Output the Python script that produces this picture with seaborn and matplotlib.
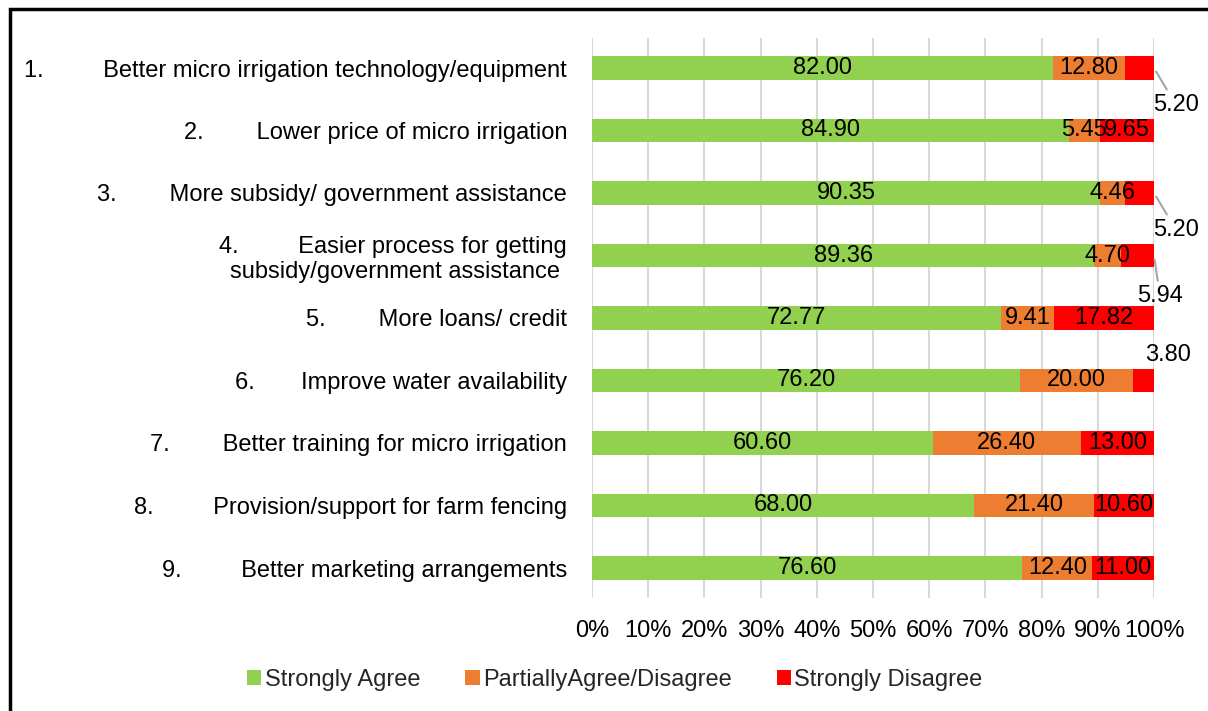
import numpy as np
import pandas as pd
import matplotlib
matplotlib.use("Agg")
import matplotlib.pyplot as plt
import seaborn as sns
from matplotlib.patches import Patch, Rectangle

# Data
labels = [
    "1.         Better micro irrigation technology/equipment",
    "2.        Lower price of micro irrigation",
    "3.        More subsidy/ government assistance",
    "4.         Easier process for getting\nsubsidy/government assistance ",
    "5.        More loans/ credit",
    "6.       Improve water availability",
    "7.        Better training for micro irrigation",
    "8.         Provision/support for farm fencing",
    "9.         Better marketing arrangements",
]
strongly_agree = [82.00, 84.90, 90.35, 89.36, 72.77, 76.20, 60.60, 68.00, 76.60]
partially = [12.80, 5.45, 4.46, 4.70, 9.41, 20.00, 26.40, 21.40, 12.40]
strongly_disagree = [5.20, 9.65, 5.20, 5.94, 17.82, 3.80, 13.00, 10.60, 11.00]
series_names = ["Strongly Agree", "PartiallyAgree/Disagree", "Strongly Disagree"]
colors = ["#92D050", "#ED7D31", "#FF0000"]

# Rows whose "Strongly Disagree" label sits outside the bar, with pixel offsets
outside = {0: (22, -37, True), 2: (22, -37, True), 3: (6, -41, True), 5: (14, 25, False)}

df = pd.DataFrame({
    "item": labels,
    "sa": strongly_agree,
    "pa": partially,
    "sd": strongly_disagree,
})
df["cum1"] = df["sa"]
df["cum2"] = df["sa"] + df["pa"]
df["cum3"] = df["cum2"] + df["sd"]

sns.set_theme(style="white")
plt.rcParams["font.family"] = ["Liberation Sans", "DejaVu Sans"]
FS = 17

fig = plt.figure(figsize=(12.08, 7.11), dpi=100)
ax = fig.add_axes([592 / 1208, 1 - 598 / 711, (1154 - 592) / 1208, (598 - 38) / 711])

# stacked bars drawn back-to-front from cumulative totals
for col, c in zip(["cum3", "cum2", "cum1"], colors[::-1]):
    sns.barplot(data=df, y="item", x=col, orient="h", color=c, width=0.38,
                saturation=1, ax=ax, zorder=3, edgecolor="none")

# segment labels
y_pos = np.arange(len(labels))
for i in range(len(labels)):
    starts = [0, df["cum1"][i], df["cum2"][i]]
    vals = [df["sa"][i], df["pa"][i], df["sd"][i]]
    for k, (s, v) in enumerate(zip(starts, vals)):
        if k == 2 and i in outside:
            dx, dy, line = outside[i]
            ax.annotate(f"{v:.2f}", xy=(df["cum3"][i], y_pos[i]), xytext=(dx, dy),
                        textcoords="offset pixels", ha="center", va="center",
                        fontsize=FS, color="black", zorder=5,
                        arrowprops=dict(arrowstyle="-", color="#A6A6A6", lw=1.5,
                                        shrinkA=1, shrinkB=3) if line else None)
        else:
            ax.text(s + v / 2, y_pos[i], f"{v:.2f}", ha="center", va="center",
                    fontsize=FS, color="black", zorder=5)

ax.set_xlim(0, 100)
ax.set_ylim(len(labels) - 1 + 0.48, -0.48)
ax.set_xticks(np.arange(0, 101, 10))
ax.set_xticklabels([f"{t}%" for t in range(0, 101, 10)])
ax.xaxis.grid(True, color="#D9D9D9", lw=1.5, zorder=0)
ax.yaxis.grid(False)
ax.set_axisbelow(True)
ax.set_xlabel("")
ax.set_ylabel("")
for s in ax.spines.values():
    s.set_visible(False)
ax.tick_params(axis="x", length=0, pad=16, labelsize=FS, colors="black")
ax.tick_params(axis="y", length=0, pad=18, labelsize=FS, colors="black")
for t in ax.get_yticklabels():
    t.set_linespacing(1.2)

handles = [Patch(facecolor=c, edgecolor="none", label=n) for c, n in zip(colors, series_names)]
fig.legend(handles=handles, loc="center", bbox_to_anchor=(615 / 1208, 1 - 680 / 711),
           ncol=3, frameon=False, fontsize=FS, handlelength=0.6, handleheight=0.6,
           handletextpad=0.15, columnspacing=1.9)

# chart frame (left and top edges visible)
fig.add_artist(Rectangle((10 / 1208, -0.2), 1.2, 1.2 - 9 / 711,
                         transform=fig.transFigure, fill=False, edgecolor="black", lw=2.5))

fig.savefig("out.png", dpi=100)
